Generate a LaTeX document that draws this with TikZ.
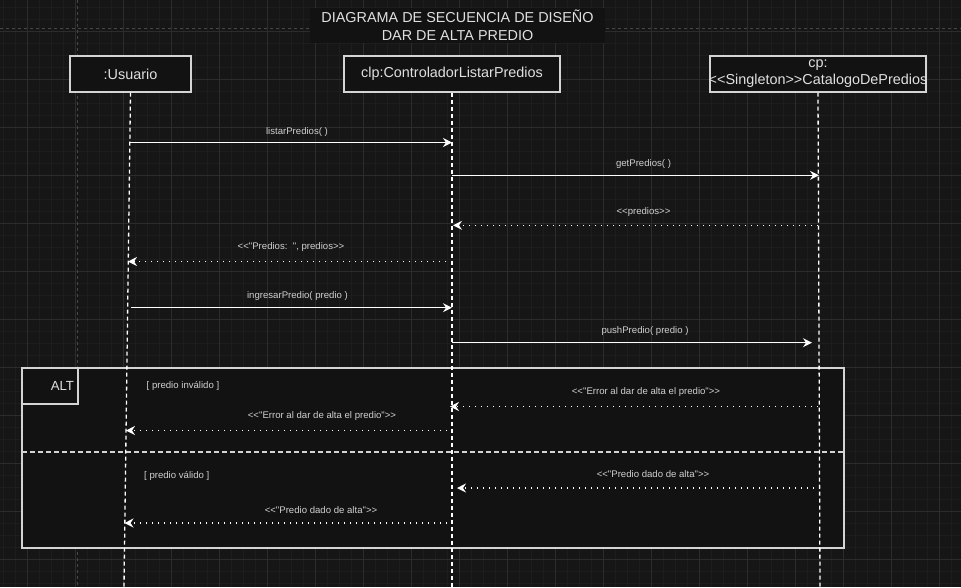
\documentclass[tikz,border=0pt]{standalone}
\usepackage{fontspec}
\newfontfamily\ar{Liberation Sans}
\usetikzlibrary{arrows.meta}
\definecolor{bg}{HTML}{161616}
\definecolor{boxfill}{HTML}{121212}
\definecolor{gminor}{HTML}{1D1D1D}
\definecolor{gmajor}{HTML}{2C2C2C}
\definecolor{pagebrk}{HTML}{484848}
\definecolor{strokec}{HTML}{D4D4D4}
\definecolor{txt}{HTML}{E0E0E0}
\definecolor{lbl}{HTML}{D0D0D0}
\begin{document}
\begin{tikzpicture}[x=1pt,y=-1pt,
  part/.style={draw=strokec, fill=boxfill, line width=1.3pt, minimum width=#1, minimum height=36, inner sep=0, text=txt, font=\ar\fontsize{14.4}{17}\selectfont},
  lifeline/.style={draw=white, line width=1.3pt, dash pattern=on 4pt off 3pt},
  sync/.style={draw=white, line width=1.3pt, -{Stealth[length=9pt,width=9pt,inset=3pt]}},
  reply/.style={draw=white, line width=1.2pt, dash pattern=on 1.2pt off 4.8pt, -{Stealth[length=9pt,width=9pt,inset=3pt]}},
  msglabel/.style={text=lbl, font=\ar\fontsize{9.6}{11}\selectfont, inner sep=0},
]
% background and grid
\fill[bg] (0,0) rectangle (961,587);
\useasboundingbox (0,0) rectangle (961,587);
\foreach \i in {0,...,80} \draw[gminor, line width=0.7pt] ({3+12*\i},0) -- ({3+12*\i},587);
\foreach \j in {0,...,48} \draw[gminor, line width=0.7pt] (0,{7+12*\j}) -- (961,{7+12*\j});
\foreach \i in {0,...,19} \draw[gmajor, line width=0.8pt] ({27+48*\i},0) -- ({27+48*\i},587);
\foreach \j in {0,...,11} \draw[gmajor, line width=0.8pt] (0,{31+48*\j}) -- (961,{31+48*\j});
\draw[pagebrk, line width=0.8pt, dash pattern=on 3pt off 3pt] (77,0) -- (77,587);
\draw[pagebrk, line width=0.8pt, dash pattern=on 3pt off 3pt] (0,28) -- (961,28);
% title
\node[fill=boxfill, minimum width=295, minimum height=35, inner sep=0, text=txt, font=\ar\fontsize{14.4}{18}\selectfont, align=center] (title) at (457.5,25.5) {DIAGRAMA DE SECUENCIA DE DISEÑO\\DAR DE ALTA PREDIO};
% ALT frame
\node[draw=strokec, fill=boxfill, line width=1.3pt, minimum width=822, minimum height=180, inner sep=0] (alt) at (433,458) {};
\node[draw=strokec, line width=1.3pt, minimum width=56, minimum height=36, inner xsep=4pt, inner ysep=0, text width=48, align=right, anchor=north west, text=txt, font=\ar\fontsize{13.2}{15}\selectfont] (altlab) at (alt.north west) {ALT};
\coordinate (sepL) at (22,452);
\coordinate (sepR) at (844,452);
\draw[strokec, line width=1.2pt, dash pattern=on 5pt off 3pt] (sepL) -- (sepR);
% participants
\node[part=121] (u) at (130.5,74) {:Usuario};
\node[part=216] (c) at (452,74) {clp:ControladorListarPredios};
\node[part=216] (cp) at (818,74) {};
\node[text=txt, font=\ar\fontsize{14.4}{17}\selectfont, align=center, inner sep=0] (cptext) at (cp.center) {cp:\\<<Singleton>>CatalogoDePredios};
% lifelines
\coordinate (uEnd) at (124,587);
\coordinate (cEnd) at (452,587);
\coordinate (cpEnd) at (820,587);
\draw[lifeline] (u.south) -- (uEnd);
\draw[lifeline] (c.south) -- (cEnd);
\draw[lifeline] (cp.south) -- (cpEnd);
% message end points
\coordinate (m1a) at (130,142.5);  \coordinate (m1b) at (452,142.5);
\coordinate (m2a) at (452,175.3);  \coordinate (m2b) at (819,175.3);
\coordinate (m3a) at (818,225.3);  \coordinate (m3b) at (453,225.3);
\coordinate (m4a) at (452,261.5);  \coordinate (m4b) at (128,261.5);
\coordinate (m5a) at (131,307.7);  \coordinate (m5b) at (452,307.7);
\coordinate (m6a) at (452,342.7);  \coordinate (m6b) at (812,342.7);
\coordinate (m7a) at (818,406.5);  \coordinate (m7b) at (450,406.5);
\coordinate (m8a) at (447,430.5);  \coordinate (m8b) at (126,430.5);
\coordinate (m11a) at (820,488);   \coordinate (m11b) at (457,488);
\coordinate (m12a) at (447,523);   \coordinate (m12b) at (124.5,523);
% messages
\draw[sync] (m1a) -- (m1b);
\node[msglabel] (l1) at (297,132) {listarPredios( )};
\draw[sync] (m2a) -- (m2b);
\node[msglabel] (l2) at (643.5,164) {getPredios( )};
\draw[reply] (m3a) -- (m3b);
\node[msglabel] (l3) at (643.5,212) {<<predios>>};
\draw[reply] (m4a) -- (m4b);
\node[msglabel] (l4) at (291,247) {<<"Predios:\ \ ", predios>>};
\draw[sync] (m5a) -- (m5b);
\node[msglabel] (l5) at (297.5,296) {ingresarPredio( predio )};
\draw[sync] (m6a) -- (m6b);
\node[msglabel] (l6) at (645,331) {pushPredio( predio )};
\node[msglabel, anchor=west] (g1) at (146.5,386) {[ predio inválido ]};
\draw[reply] (m7a) -- (m7b);
\node[msglabel] (l7) at (646,392) {<<"Error al dar de alta el predio">>};
\draw[reply] (m8a) -- (m8b);
\node[msglabel] (l8) at (322,416) {<<"Error al dar de alta el predio">>};
\node[msglabel, anchor=west] (g2) at (144,476) {[ predio válido ]};
\draw[reply] (m11a) -- (m11b);
\node[msglabel] (l11) at (653,474) {<<"Predio dado de alta">>};
\draw[reply] (m12a) -- (m12b);
\node[msglabel] (l12) at (321,510) {<<"Predio dado de alta">>};
\end{tikzpicture}
\end{document}
